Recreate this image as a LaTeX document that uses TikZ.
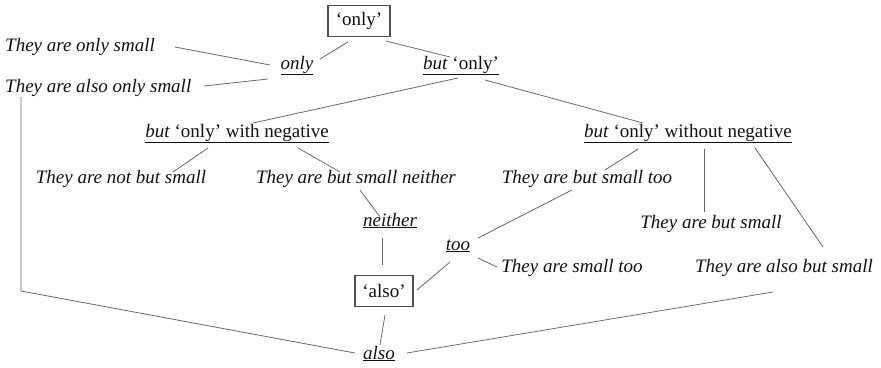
\documentclass[tikz,border=0pt]{standalone}
\usepackage{fontspec}
\setmainfont{Liberation Serif}
\definecolor{txt}{HTML}{111111}
\definecolor{ln}{HTML}{686868}
\definecolor{bx}{HTML}{505050}
\begin{document}
\begin{tikzpicture}[x=1pt,y=-1pt,
  every node/.style={font=\fontsize{19}{23}\selectfont, text=txt, inner sep=0pt},
  lab/.style={anchor=base},
  labw/.style={anchor=base west},
  boxed/.style={draw=bx, line width=1.8pt, minimum width=#1, minimum height=31pt, anchor=center},
  conn/.style={draw=ln, line width=0.8pt}]
\useasboundingbox (0,0) rectangle (881,367);

% nodes
\node[boxed=62pt] (bonly) at (359,21) {`only'};
\node[labw] (ts1) at (5,51) {\textit{They are only small}};
\node[labw] (ts2) at (5,92) {\textit{They are also only small}};
\node[lab] (only) at (297,69) {\underline{\textit{only}}};
\node[lab] (buto) at (461,69) {\underline{\textit{but} `only'}};
\node[lab] (wneg) at (237,137) {\underline{\textit{but} `only' with negative}};
\node[lab] (woneg) at (688,137) {\underline{\textit{but} `only' without negative}};
\node[lab] (notbut) at (121,183) {\textit{They are not but small}};
\node[lab] (butnei) at (356,183) {\textit{They are but small neither}};
\node[lab] (buttoo) at (587,183) {\textit{They are but small too}};
\node[lab] (nei) at (390,226) {\underline{\textit{neither}}};
\node[lab] (butsm) at (711,228) {\textit{They are but small}};
\node[lab] (too) at (458,250) {\underline{\textit{too}}};
\node[lab] (smtoo) at (572,272) {\textit{They are small too}};
\node[lab] (alsobut) at (784,272) {\textit{They are also but small}};
\node[boxed=58pt] (balso) at (384,291) {`also'};
\node[lab] (also) at (379,359) {\underline{\textit{also}}};
\coordinate (corner) at (21,291);

% connectors
\draw[conn] ([shift={(-11,21)}]bonly.center) -- ([shift={(23,-10)}]only.base);
\draw[conn] ([shift={(27,20)}]bonly.center) -- ([shift={(-11,-12)}]buto.base);
\draw[conn] ([shift={(170,-4)}]ts1.base west) -- ([shift={(-27,-4)}]only.base);
\draw[conn] ([shift={(199,-6)}]ts2.base west) -- ([shift={(-29,10)}]only.base);
\draw[conn] ([shift={(-3,9)}]buto.base) -- ([shift={(16,-14)}]wneg.base);
\draw[conn] ([shift={(24,11)}]buto.base) -- ([shift={(-45,-14)}]woneg.base);
\draw[conn] ([shift={(-29,11)}]wneg.base) -- ([shift={(52,-11)}]notbut.base);
\draw[conn] ([shift={(61,11)}]wneg.base) -- ([shift={(-16,-11)}]butnei.base);
\draw[conn] ([shift={(4,7)}]butnei.base) -- ([shift={(-10,-9)}]nei.base);
\draw[conn] ([shift={(-8,12)}]nei.base) -- ([shift={(-2,-26)}]balso.center);
\draw[conn] ([shift={(-50,12)}]woneg.base) -- ([shift={(18,-13)}]buttoo.base);
\draw[conn] ([shift={(16,12)}]woneg.base) -- ([shift={(-7,-16)}]butsm.base);
\draw[conn] ([shift={(67,11)}]woneg.base) -- ([shift={(39,-25)}]alsobut.base);
\draw[conn] ([shift={(-15,7)}]buttoo.base) -- ([shift={(20,-12)}]too.base);
\draw[conn] ([shift={(-8,12)}]too.base) -- ([shift={(33,-1)}]balso.center);
\draw[conn] ([shift={(20,8)}]too.base) -- ([shift={(-75,-5)}]smtoo.base);
\draw[conn] ([shift={(1,24)}]balso.center) -- ([shift={(1,-14)}]also.base);
\draw[conn] ([shift={(16,5)}]ts2.base west) -- (corner) -- ([shift={(-24,-6)}]also.base);
\draw[conn] ([shift={(28,-6)}]also.base) -- ([shift={(-11,20)}]alsobut.base);
\end{tikzpicture}
\end{document}
